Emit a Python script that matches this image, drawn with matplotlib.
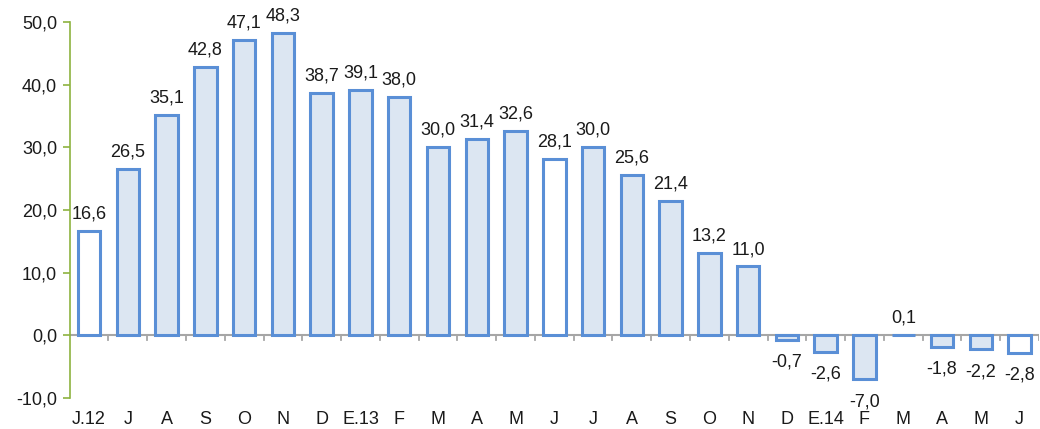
import matplotlib
matplotlib.use("Agg")
from matplotlib import pyplot as plt

# Data #
months = ["J.12", "J", "A", "S", "O", "N", "D", "E.13", "F", "M", "A", "M",
          "J", "J", "A", "S", "O", "N", "D", "E.14", "F", "M", "A", "M", "J"]
values = [16.6, 26.5, 35.1, 42.8, 47.1, 48.3, 38.7, 39.1, 38.0, 30.0, 31.4, 32.6,
          28.1, 30.0, 25.6, 21.4, 13.2, 11.0, -0.7, -2.6, -7.0, 0.1, -1.8, -2.2, -2.8]
white_bars = [0, 12, 24]

edge_blue = "#5A8FD6"
fill_blue = "#DCE6F2"
axis_green = "#8DB33F"
axis_gray = "#A6A6A6"

plt.rcParams["font.family"] = ["Liberation Sans", "DejaVu Sans"]
fs = 13

fig = plt.figure(figsize=(10.4, 4.29), dpi=100)
ax = fig.add_axes([0.067, 0.072, 0.932, 0.877])

x = list(range(len(values)))
colors = ["white" if i in white_bars else fill_blue for i in x]
ax.bar(x, values, width=0.58, color=colors, edgecolor=edge_blue, linewidth=2.2, zorder=3)

# Value labels #
for i, v in enumerate(values):
    label = f"{v:.1f}".replace(".", ",")
    if v >= 0:
        ax.annotate(label, (i, v), xytext=(0, 6), textcoords="offset points",
                    ha="center", va="bottom", fontsize=fs, color="#1a1a1a")
    else:
        ax.annotate(label, (i, v), xytext=(0, -10), textcoords="offset points",
                    ha="center", va="top", fontsize=fs, color="#1a1a1a")

ax.set_xlim(-0.5, len(values) - 0.5)
ax.set_ylim(-10, 50)
ax.set_yticks(range(-10, 51, 10))
ax.set_yticklabels([f"{t:.1f}".replace(".", ",") for t in range(-10, 51, 10)], fontsize=fs)

# Axes styling #
for side in ["top", "right", "bottom"]:
    ax.spines[side].set_visible(False)
ax.spines["left"].set_color(axis_green)
ax.spines["left"].set_linewidth(1.2)
ax.tick_params(axis="y", colors=axis_green, labelcolor="#1a1a1a", length=5, width=1.2, pad=4)

# x axis line at zero with ticks between categories #
ax.axhline(0, color=axis_gray, linewidth=1.5, zorder=2)
for k in range(len(values)):
    ax.plot([k + 0.5, k + 0.5], [0, -0.8], color=axis_gray, linewidth=1.3, zorder=2)

ax.set_xticks(x)
ax.set_xticklabels(months, fontsize=fs)
ax.tick_params(axis="x", length=0, pad=9, labelcolor="#1a1a1a")

plt.savefig("out.png", dpi=100)
